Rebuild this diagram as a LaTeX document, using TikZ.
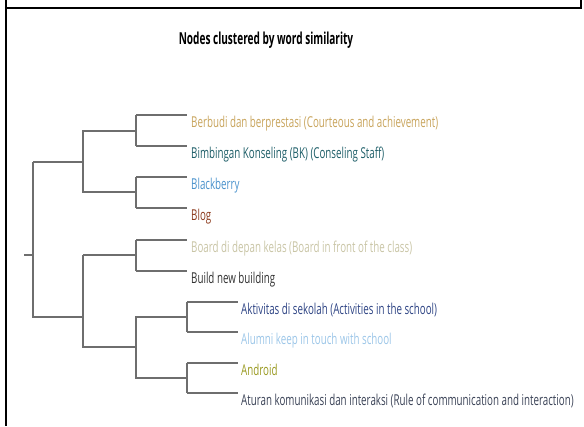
\documentclass[tikz,border=0pt]{standalone}
\usepackage{fontspec}
\setmainfont{Open Sans}[FakeStretch=0.652]
\newfontfamily\titlefont{Open Sans}[FakeStretch=0.61]
\usetikzlibrary{calc}

\definecolor{cBerbudi}{HTML}{C8A45C}
\definecolor{cBimbingan}{HTML}{1E5E68}
\definecolor{cBlackberry}{HTML}{4A92CC}
\definecolor{cBlog}{HTML}{8C3A1C}
\definecolor{cBoard}{HTML}{C9C5A6}
\definecolor{cBuild}{HTML}{333333}
\definecolor{cAktivitas}{HTML}{2E4484}
\definecolor{cAlumni}{HTML}{9CC6E8}
\definecolor{cAndroid}{HTML}{9A9A22}
\definecolor{cAturan}{HTML}{3A4256}
\definecolor{treegrey}{HTML}{6E6E6E}

\tikzset{
  frameline/.style={line width=2.4pt, black},
  branch/.style={line width=2.2pt, treegrey},
  leaflabel/.style={anchor=base west, inner sep=0pt, font=\fontsize{15}{17}\selectfont},
  titlelabel/.style={inner sep=0pt, font=\titlefont\fontsize{16.5}{19}\selectfont\bfseries},
}

\begin{document}
\begin{tikzpicture}[x=1pt, y=-1pt]
\useasboundingbox (0,0) rectangle (584,426);

% outer frame
\draw[frameline] (6,0) -- (6,426);
\draw[frameline] (4.8,8) -- (581,8);
\draw[frameline] (581,0) -- (581,9.2);

% title
\node[titlelabel] (title) at (266,40) {Nodes clustered by word similarity};

% leaf end points
\coordinate (e1) at (187,115);
\coordinate (e2) at (187,146);
\coordinate (e3) at (187,177);
\coordinate (e4) at (187,208);
\coordinate (e5) at (187,240);
\coordinate (e6) at (187,271);
\coordinate (e7) at (238,302);
\coordinate (e8) at (238,332);
\coordinate (e9) at (238,363);
\coordinate (e10) at (238,393);

% merge points
\coordinate (m12) at (136,131);
\coordinate (m34) at (136,192);
\coordinate (m56) at (136,255);
\coordinate (m78) at (187,317);
\coordinate (m910) at (187,378);
\coordinate (m710) at (136,347);
\coordinate (m14) at (83,162);
\coordinate (m510) at (83,317);
\coordinate (root) at (33,255);
\coordinate (stub) at (24,255);

% labels
\node[leaflabel, text=cBerbudi]   (t1)  at (191,127.5) {Berbudi dan berprestasi (Courteous and achievement)};
\node[leaflabel, text=cBimbingan] (t2)  at (191,158.5) {Bimbingan Konseling (BK) (Conseling Staff)};
\node[leaflabel, text=cBlackberry](t3)  at (191,189.5) {Blackberry};
\node[leaflabel, text=cBlog]      (t4)  at (191,220.5) {Blog};
\node[leaflabel, text=cBoard]     (t5)  at (191,252.5) {Board di depan kelas (Board in front of the class)};
\node[leaflabel, text=cBuild]     (t6)  at (191,283.5) {Build new building};
\node[leaflabel, text=cAktivitas] (t7)  at (241,314.5) {Aktivitas di sekolah (Activities in the school)};
\node[leaflabel, text=cAlumni]    (t8)  at (241,344.5) {Alumni keep in touch with school};
\node[leaflabel, text=cAndroid]   (t9)  at (241,375.5) {Android};
\node[leaflabel, text=cAturan]    (t10) at (241,405.5) {Aturan komunikasi dan interaksi (Rule of communication and interaction)};

% dendrogram branches
\draw[branch] (m12 |- e1) -- (e1);
\draw[branch] (m12 |- e2) -- (e2);
\draw[branch] (m12 |- e1) -- (m12 |- e2);
\draw[branch] (m34 |- e3) -- (e3);
\draw[branch] (m34 |- e4) -- (e4);
\draw[branch] (m34 |- e3) -- (m34 |- e4);
\draw[branch] (m56 |- e5) -- (e5);
\draw[branch] (m56 |- e6) -- (e6);
\draw[branch] (m56 |- e5) -- (m56 |- e6);

\draw[branch] (m78 |- e7) -- (e7);
\draw[branch] (m78 |- e8) -- (e8);
\draw[branch] (m78 |- e7) -- (m78 |- e8);
\draw[branch] (m910 |- e9) -- (e9);
\draw[branch] (m910 |- e10) -- (e10);
\draw[branch] (m910 |- e9) -- (m910 |- e10);

\draw[branch] (m710) |- (m78);
\draw[branch] (m710) |- (m910);
\draw[branch] (m14) |- (m12);
\draw[branch] (m14) |- (m34);
\draw[branch] (m14 |- m56) -- (m56);
\draw[branch] (m14 |- m56) -- (m14 |- m710) -- (m710);

\draw[branch] (root |- m14) -- (m14);
\draw[branch] (root |- m14) -- (root |- m510) -- (m510);
\draw[branch] (stub) -- (root);

\end{tikzpicture}
\end{document}
